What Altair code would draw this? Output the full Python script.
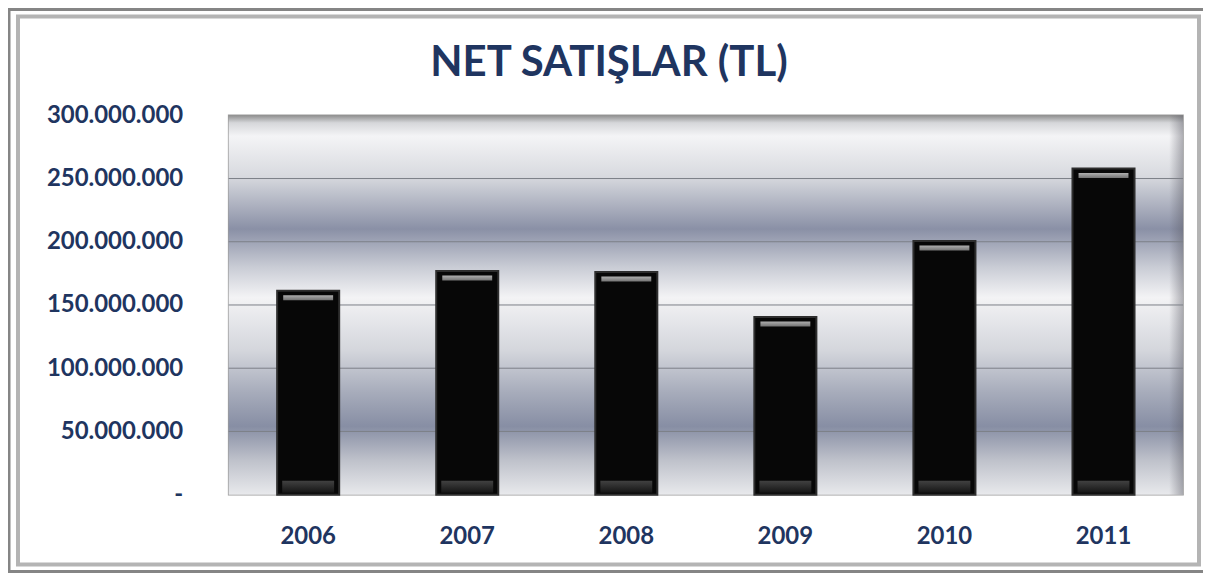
import altair as alt
import pandas as pd

# ---- data ----
years = ["2006", "2007", "2008", "2009", "2010", "2011"]
sales = [161_300_000, 176_800_000, 176_000_000, 140_500_000, 200_500_000, 257_900_000]
y_ticks = [0, 50_000_000, 100_000_000, 150_000_000, 200_000_000, 250_000_000, 300_000_000]
title_text = "NET SATIŞLAR (TL)"

df = pd.DataFrame({"year": years, "sales": sales, "zero": [0] * len(years)})
grid_df = pd.DataFrame({"v": y_ticks[1:-1]})
one = pd.DataFrame({"a": [0]})

navy = "#1f3560"
W, H = 956, 380
FONT = "Lato"

xscale = alt.Scale(domain=years, paddingInner=0.61, paddingOuter=0.305)
yscale = alt.Scale(domain=[0, 300_000_000], nice=False)

x_axis = alt.Axis(title=None, labelAngle=0, domain=False, ticks=False, grid=False,
                  labelPadding=30, labelFont=FONT, labelFontSize=24,
                  labelFontWeight="bold", labelColor=navy)
y_axis = alt.Axis(title=None, values=y_ticks, format=",d",
                  labelExpr="datum.value === 0 ? '-' : datum.label",
                  domain=False, ticks=False, grid=False, labelPadding=46,
                  labelFont=FONT, labelFontSize=24, labelFontWeight="bold",
                  labelColor=navy)

bg_grad = alt.Gradient(
    gradient="linear", x1=0, x2=0, y1=0, y2=1,
    stops=[
        alt.GradientStop(color="#8f8f8f", offset=0.0),
        alt.GradientStop(color="#d6d7da", offset=0.02),
        alt.GradientStop(color="#f4f4f6", offset=0.055),
        alt.GradientStop(color="#d8dadf", offset=0.16),
        alt.GradientStop(color="#8a90a6", offset=0.30),
        alt.GradientStop(color="#c9ccd5", offset=0.40),
        alt.GradientStop(color="#f3f3f5", offset=0.48),
        alt.GradientStop(color="#d4d6dc", offset=0.62),
        alt.GradientStop(color="#a7acbb", offset=0.73),
        alt.GradientStop(color="#878ea4", offset=0.82),
        alt.GradientStop(color="#bfc2cb", offset=0.91),
        alt.GradientStop(color="#e8e9ec", offset=1.0),
    ],
)

right_shadow = alt.Gradient(
    gradient="linear", x1=0, x2=1, y1=0, y2=0,
    stops=[
        alt.GradientStop(color="rgba(90,90,100,0)", offset=0.0),
        alt.GradientStop(color="rgba(90,90,100,0.45)", offset=1.0),
    ],
)

background = alt.Chart(one).mark_rect(fill=bg_grad).encode(
    x=alt.value(0), x2=alt.value(W), y=alt.value(0), y2=alt.value(H)
)
shade = alt.Chart(one).mark_rect(fill=right_shadow).encode(
    x=alt.value(W - 14), x2=alt.value(W), y=alt.value(0), y2=alt.value(H)
)

frame_outer = alt.Chart(one).mark_rect(filled=False, stroke="#858585", strokeWidth=3).encode(
    x=alt.value(-220), x2=alt.value(979), y=alt.value(-106), y2=alt.value(457)
)
frame_inner = alt.Chart(one).mark_rect(filled=False, stroke="#b4b4b4", strokeWidth=4).encode(
    x=alt.value(-211), x2=alt.value(972), y=alt.value(-99), y2=alt.value(450)
)

title = alt.Chart(one).mark_text(
    text=title_text, font=FONT, fontSize=42, fontWeight="bold", color=navy,
    align="center", baseline="middle",
).encode(x=alt.value(W / 2 - 97), y=alt.value(-52))

grid = alt.Chart(grid_df).mark_rule(color="#7c7f88", strokeWidth=1).encode(
    y=alt.Y("v:Q", scale=yscale, axis=y_axis), x=alt.value(0), x2=alt.value(W)
)

bars = alt.Chart(df).mark_bar(fill="#070707", stroke="#2e2e2e", strokeWidth=2).encode(
    x=alt.X("year:N", scale=xscale, sort=years, axis=x_axis),
    y=alt.Y("sales:Q", scale=yscale, axis=y_axis),
)

top_hl = alt.Chart(df).mark_tick(
    thickness=5, size=50, yOffset=7,
    fill=alt.Gradient(gradient="linear", x1=0, x2=0, y1=0, y2=1,
                      stops=[alt.GradientStop(color="#f6f6f6", offset=0),
                             alt.GradientStop(color="#a0a0a0", offset=1)]),
).encode(x=alt.X("year:N", scale=xscale, sort=years, axis=x_axis),
         y=alt.Y("sales:Q", scale=yscale, axis=y_axis))

bottom_bv = alt.Chart(df).mark_tick(
    thickness=12, size=52, yOffset=-8,
    fill=alt.Gradient(gradient="linear", x1=0, x2=0, y1=0, y2=1,
                      stops=[alt.GradientStop(color="#5a5a5a", offset=0),
                             alt.GradientStop(color="#1c1c1c", offset=1)]),
).encode(x=alt.X("year:N", scale=xscale, sort=years, axis=x_axis),
         y=alt.Y("zero:Q", scale=yscale, axis=y_axis))

chart = alt.layer(
    frame_outer, frame_inner, title, background, shade, grid, bars, top_hl, bottom_bv
).properties(
    width=W, height=H,
    padding={"left": 221, "top": 107, "right": 20, "bottom": 78},
    autosize=alt.AutoSizeParams(type="none"),
).configure(
    background="white",
    locale={"number": {"decimal": ",", "thousands": ".", "grouping": [3],
                       "currency": ["", " TL"]}},
).configure_view(stroke="#9a9a9a", strokeWidth=1.5)

chart.save("out.html", embed_options={"renderer": "svg", "actions": False})
